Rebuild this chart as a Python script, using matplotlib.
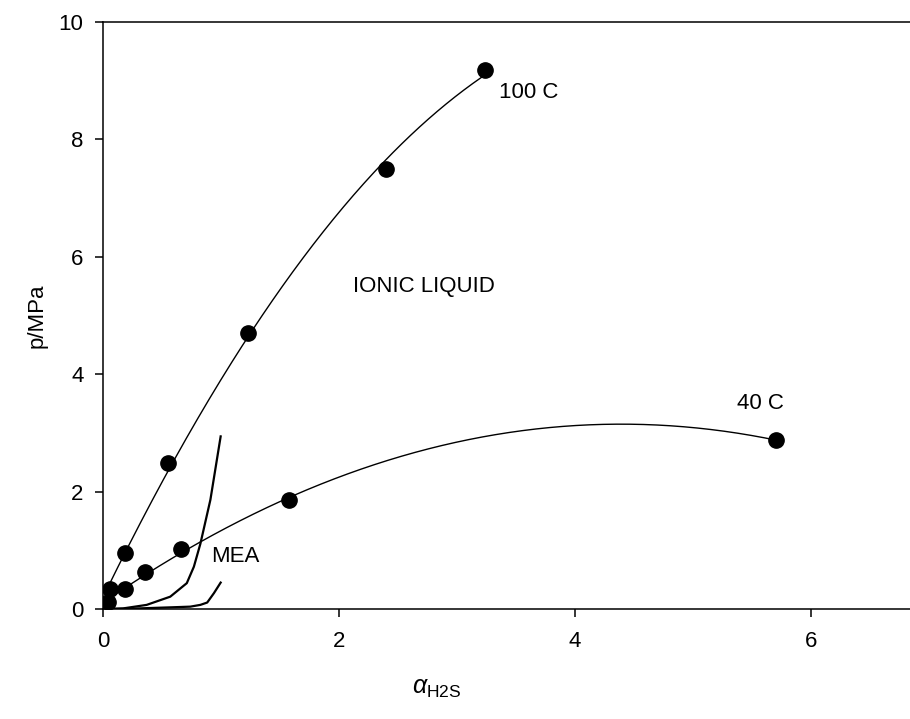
import numpy as np
import matplotlib
matplotlib.use("Agg")
import matplotlib.pyplot as plt

plt.rcParams['font.family'] = ['Liberation Sans', 'DejaVu Sans']
plt.rcParams['mathtext.fontset'] = 'custom'
plt.rcParams['mathtext.rm'] = 'Liberation Sans'
plt.rcParams['mathtext.it'] = 'Liberation Sans:italic'

# ionic liquid data, H2S loading vs pressure
x_100 = np.array([0.06, 0.19, 0.55, 1.23, 2.40, 3.24])
p_100 = np.array([0.34, 0.96, 2.49, 4.70, 7.49, 9.18])

x_40 = np.array([0.045, 0.19, 0.36, 0.66, 1.58, 5.70])
p_40 = np.array([0.12, 0.34, 0.63, 1.02, 1.86, 2.88])

# MEA curves
x_mea1 = [0.0, 0.17, 0.37, 0.57, 0.71, 0.77, 0.825, 0.91, 0.997]
p_mea1 = [0.0, 0.01, 0.07, 0.21, 0.44, 0.72, 1.11, 1.86, 2.94]
x_mea2 = [0.1, 0.3, 0.6, 0.74, 0.825, 0.883, 0.94, 0.997]
p_mea2 = [0.0, 0.01, 0.03, 0.04, 0.07, 0.11, 0.27, 0.45]

fig = plt.figure(figsize=(9.1, 7.19), dpi=100)
ax = fig.add_axes([0.1132, 0.153, 0.9077, 0.8165])

# quadratic regression lines through the points
for xs, ps in [(x_100, p_100), (x_40, p_40)]:
    c = np.polyfit(xs, ps, 2)
    xf = np.linspace(xs.min() * 0.5, xs.max(), 300)
    ax.plot(xf, np.polyval(c, xf), color='black', lw=1.0)
    ax.plot(xs, ps, 'o', color='black', ms=11)

ax.plot(x_mea1, p_mea1, color='black', lw=1.6)
ax.plot(x_mea2, p_mea2, color='black', lw=1.6)

ax.text(3.36, 8.8, '100 C', fontsize=16, va='center')
ax.text(5.57, 3.5, '40 C', fontsize=16, ha='center', va='center')
ax.text(2.72, 5.49, 'IONIC LIQUID', fontsize=16, ha='center', va='center')
ax.text(1.12, 0.89, 'MEA', fontsize=16, ha='center', va='center')

ax.set_xlim(0, 7)
ax.set_ylim(0, 10)
ax.set_xticks([0, 2, 4, 6])
ax.set_yticks([0, 2, 4, 6, 8, 10])
ax.tick_params(direction='out', length=6, width=1.1, labelsize=16)
ax.tick_params(axis='y', pad=8)
ax.tick_params(axis='x', pad=10)
ax.spines['right'].set_visible(False)
for s in ['left', 'bottom', 'top']:
    ax.spines[s].set_linewidth(1.1)

ax.set_ylabel('p/MPa', fontsize=16, labelpad=8)
fig.text(437 / 910, 1 - 688 / 719, r'$\alpha_{\mathrm{H2S}}$', fontsize=18,
         ha='center', va='center')

fig.savefig('out.png', dpi=100)
